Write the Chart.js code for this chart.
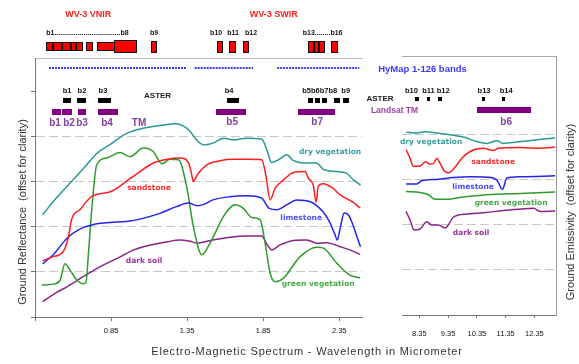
<!DOCTYPE html>
<html>
<head>
<meta charset="utf-8">
<script src="https://cdn.jsdelivr.net/npm/chart.js@4.4.1/dist/chart.umd.min.js"></script>
<style>
  html, body { margin: 0; padding: 0; background: #fff; }
  #wrap { position: relative; width: 579px; height: 364px; overflow: hidden; background: #fff; }
  canvas { position: absolute; top: 0; }
  #refl { left: 0; }
  #emis { left: 380px; }
</style>
</head>
<body>
<div id="wrap">
  <canvas id="refl" width="579" height="364"></canvas>
  <canvas id="emis" width="199" height="364"></canvas>
</div>
<script>
// ---------- Reflective region (µm) : reflectance, curves offset for clarity ----------
const reflTicks = [0.35, 0.85, 1.35, 1.85, 2.35];
const offsetLevels = [0, 1, 2, 3, 4, 5];

const dryVegWl   = [0.40,0.49,0.59,0.67,0.76,0.84,0.95,1.06,1.17,1.28,1.33,1.37,1.42,1.46,1.52,1.59,1.655,1.74,1.84,1.875,1.905,1.95,2.005,2.05,2.115,2.20,2.25,2.335,2.40,2.445,2.49];
const dryVegRefl = [2.27,2.64,3.01,3.30,3.64,3.82,4.07,4.19,4.25,4.29,4.23,4.12,3.90,3.82,3.86,3.97,3.93,3.97,3.95,3.71,3.43,3.49,3.60,3.47,3.42,3.42,3.27,3.23,3.19,3.04,2.93];

const sandWl   = [0.40,0.47,0.535,0.57,0.59,0.645,0.72,0.80,0.845,0.89,0.95,1.04,1.13,1.22,1.30,1.33,1.36,1.378,1.391,1.405,1.424,1.48,1.567,1.655,1.743,1.841,1.869,1.896,1.929,1.983,2.049,2.126,2.146,2.179,2.199,2.212,2.245,2.304,2.357,2.436,2.488];
const sandRefl = [1.25,1.34,1.45,1.78,2.16,2.38,2.67,2.75,2.78,2.86,3.01,3.23,3.42,3.50,3.53,3.52,3.42,3.20,3.01,3.08,3.19,3.38,3.47,3.50,3.50,3.49,3.12,2.60,2.86,3.04,3.21,3.23,3.09,2.93,2.55,2.90,2.96,2.87,2.71,2.56,2.42];

const limeWl   = [0.40,0.47,0.56,0.645,0.755,0.845,0.95,1.06,1.17,1.28,1.36,1.415,1.46,1.52,1.63,1.74,1.84,1.89,1.94,2.005,2.07,2.16,2.245,2.29,2.32,2.338,2.357,2.383,2.41,2.44,2.455,2.49];
const limeRefl = [1.18,1.38,1.75,1.95,2.07,2.10,2.12,2.19,2.30,2.45,2.53,2.47,2.50,2.60,2.67,2.69,2.64,2.41,2.38,2.49,2.60,2.56,2.33,2.09,1.85,1.71,1.98,2.31,2.27,2.05,1.90,1.56];

const greenVegWl   = [0.395,0.47,0.515,0.547,0.58,0.625,0.665,0.685,0.70,0.723,0.756,0.822,0.909,0.975,1.063,1.128,1.184,1.238,1.293,1.348,1.391,1.447,1.501,1.589,1.666,1.72,1.776,1.83,1.863,1.896,1.929,1.983,2.093,2.203,2.247,2.335,2.42,2.488];
const greenVegRefl = [0.71,0.73,0.82,1.18,1.04,0.82,0.74,0.76,1.34,2.38,3.38,3.53,3.65,3.56,3.75,3.67,3.40,3.50,3.49,2.88,2.01,1.38,1.64,2.23,2.49,2.41,2.21,2.16,1.64,0.97,0.78,0.86,1.34,1.55,1.53,1.19,0.93,0.87];

const soilWl   = [0.40,0.49,0.56,0.67,0.78,0.89,1.00,1.11,1.22,1.30,1.37,1.415,1.52,1.63,1.74,1.84,1.878,1.907,1.962,2.049,2.137,2.203,2.269,2.357,2.42,2.488];
const soilRefl = [0.34,0.54,0.67,0.90,1.12,1.30,1.49,1.60,1.67,1.71,1.68,1.64,1.71,1.77,1.80,1.80,1.60,1.49,1.60,1.70,1.71,1.64,1.65,1.56,1.49,1.39];

// ---------- Thermal region (µm) : emissivity, curves offset for clarity ----------
const emisTicks = [8.35, 9.35, 10.35, 11.35, 12.35];

const dryVegTirWl = [7.89,8.26,8.55,8.96,9.42,9.88,10.35,10.70,11.04,11.27,11.74,12.44,13.07];
const dryVegEmis  = [4.06,4.04,4.07,4.04,4.00,3.95,3.85,3.81,3.87,3.81,3.84,3.89,3.93];
const sandTirWl = [7.89,8.03,8.14,8.38,8.58,8.70,8.84,8.96,9.07,9.21,9.36,9.59,9.83,10.12,10.58,10.93,11.10,11.85,12.55,13.07];
const sandEmis  = [3.67,3.48,3.30,3.31,3.41,3.35,3.36,3.48,3.37,3.21,3.16,3.28,3.48,3.63,3.70,3.65,3.70,3.72,3.70,3.73];
const limeTirWl = [7.89,8.26,8.43,8.96,9.53,10.12,10.70,11.04,11.24,11.39,11.85,13.07];
const limeEmis  = [2.91,2.91,2.98,3.01,3.05,3.07,3.06,3.00,2.79,3.04,3.07,3.09];
const greenVegTirWl = [7.89,8.38,8.67,8.90,9.30,9.88,10.70,11.85,13.07];
const greenVegEmis  = [2.74,2.72,2.67,2.57,2.57,2.62,2.67,2.70,2.73];
const soilTirWl = [7.89,8.03,8.17,8.38,8.61,8.78,9.01,9.25,9.36,9.53,10.0,10.58,11.27,11.85,12.32,12.55,13.07];
const soilEmis  = [2.30,2.11,1.89,1.91,2.07,2.00,2.00,1.93,2.00,2.17,2.24,2.27,2.32,2.35,2.37,2.30,2.31];

// ---------- Sensor band coverage [start, end] in µm ----------
const wv3VnirBands = [[0.422,0.468],[0.468,0.528],[0.528,0.587],[0.587,0.62],[0.62,0.666],[0.686,0.732],[0.758,0.876],[0.87,1.021]];
const wv3SwirBands = [[1.113,1.153],[1.547,1.587],[1.626,1.672],[1.718,1.758],[2.146,2.186],[2.186,2.218],[2.218,2.258],[2.297,2.343]];
const hymapRanges  = [[0.442,1.35],[1.40,1.784],[1.942,2.482]];
const asterVswirBands = [[0.528,0.593],[0.626,0.686],[0.764,0.85],[1.607,1.692],[2.139,2.179],[2.186,2.225],[2.232,2.271],[2.31,2.357],[2.37,2.416]];
const tmReflBands  = [[0.462,0.52],[0.528,0.593],[0.632,0.686],[0.764,0.896],[1.54,1.74],[2.08,2.32]];
const asterTirBands = [[8.20,8.33],[8.61,8.73],[9.01,9.13],[10.52,10.64],[11.22,11.33]];
const tmThermalBand = [10.35, 12.23];

// ---------- Styling ----------
const SANS = '"Liberation Sans", Arial, sans-serif';
const VERD = '"DejaVu Sans", Verdana, sans-serif';
const LINE = { dry: '#2a9898', sand: '#ff1c1c', lime: '#2424ee', green: '#2c9c2c', soil: '#8a228a' };
const TAG  = { dry: '#3a9e9e', sand: '#ff2a2a', lime: '#4c4cff', green: '#46a846', soil: '#993399' };
const TM_PURPLE = '#800080';
const TM_TEXT = '#8442a4';

function txt(ctx, s, x, y, font, color, align) {
  ctx.font = font;
  ctx.fillStyle = color;
  ctx.textAlign = align || 'center';
  ctx.textBaseline = 'middle';
  ctx.fillText(s, x, y);
}
function bar(ctx, x0, x1, y0, y1, fill, stroke) {
  const l = Math.round(x0), r = Math.round(x1), t = Math.round(y0), b = Math.round(y1);
  ctx.fillStyle = fill;
  ctx.fillRect(l, t, Math.max(1, r - l), b - t);
  if (stroke) {
    ctx.strokeStyle = stroke;
    ctx.lineWidth = 1;
    ctx.strokeRect(l + 0.5, t + 0.5, Math.max(1, r - l - 1), b - t - 1);
  }
}
function mkSet(wl, val, color) {
  return {
    data: wl.map((w, i) => ({ x: w, y: val[i] })),
    borderColor: color, borderWidth: 1.5, pointRadius: 0, fill: false,
    cubicInterpolationMode: 'monotone'
  };
}
const gridColor = c => (c.tick && c.tick.value >= 1 && c.tick.value <= 4) ? '#c8c8c8' : 'rgba(0,0,0,0)';

// ---------- Decorations for the reflective panel ----------
const reflDecor = {
  id: 'reflDecor',
  afterDraw(chart) {
    const { ctx, chartArea: a, scales: { x, y } } = chart;
    const X = v => x.getPixelForValue(v);
    const Y = v => y.getPixelForValue(v);
    const t = a.top;
    ctx.save();

    // WorldView-3
    txt(ctx, 'WV-3 VNIR', X(0.70), t - 43, 'bold 9px ' + SANS, '#ff2020');
    txt(ctx, 'WV-3 SWIR', X(1.919), t - 43, 'bold 9px ' + SANS, '#ff2020');
    const smallB = 'bold 7px ' + SANS;
    txt(ctx, 'b1..................................b8', X(0.695), t - 25, smallB, '#111');
    txt(ctx, 'b9', X(1.133), t - 25, smallB, '#111');
    txt(ctx, 'b10', X(1.541), t - 25, smallB, '#111');
    txt(ctx, 'b11', X(1.653), t - 25, smallB, '#111');
    txt(ctx, 'b12', X(1.771), t - 25, smallB, '#111');
    txt(ctx, 'b13........b16', X(2.241), t - 25, smallB, '#111');
    wv3VnirBands.forEach((b, i) => {
      const tall = i === wv3VnirBands.length - 1;
      bar(ctx, X(b[0]), X(b[1]), tall ? t - 18 : t - 16, tall ? t - 5 : t - 7, '#ff0000', '#111');
    });
    wv3SwirBands.forEach(b => bar(ctx, X(b[0]), X(b[1]), t - 17.5, t - 5.5, '#ff0000', '#111'));

    // HyMap
    ctx.strokeStyle = '#3c3cff';
    ctx.lineWidth = 2.2;
    ctx.setLineDash([2, 1]);
    hymapRanges.forEach(r => {
      ctx.beginPath();
      ctx.moveTo(X(r[0]), t + 10);
      ctx.lineTo(X(r[1]), t + 10);
      ctx.stroke();
    });
    ctx.setLineDash([]);
    txt(ctx, 'HyMap 1-126 bands', 422.5, t + 11, 'bold 9.5px ' + SANS, '#3b3bff');

    // ASTER (VNIR / SWIR)
    const aLab = 'bold 7.5px ' + SANS;
    txt(ctx, 'b1', X(0.561), t + 33, aLab, '#111');
    txt(ctx, 'b2', X(0.659), t + 33, aLab, '#111');
    txt(ctx, 'b3', X(0.797), t + 33, aLab, '#111');
    txt(ctx, 'b4', X(1.626), t + 33, aLab, '#111');
    txt(ctx, 'b5b6b7b8', X(2.222), t + 33, aLab, '#111');
    txt(ctx, 'b9', X(2.393), t + 33, aLab, '#111');
    txt(ctx, 'ASTER', X(1.156), t + 38, 'bold 8px ' + SANS, '#222');
    txt(ctx, 'ASTER', 380, t + 41, 'bold 8px ' + SANS, '#222');
    asterVswirBands.forEach(b => bar(ctx, X(b[0]) + 0.5, X(b[1]) - 0.5, t + 40, t + 45, '#000'));

    // Landsat TM
    tmReflBands.forEach(b => bar(ctx, X(b[0]), X(b[1]), t + 51, t + 57, TM_PURPLE));
    const tmLab = 'bold 10px ' + SANS;
    txt(ctx, 'b1', X(0.482), t + 65, tmLab, TM_TEXT);
    txt(ctx, 'b2', X(0.574), t + 65, tmLab, TM_TEXT);
    txt(ctx, 'b3', X(0.659), t + 65, tmLab, TM_TEXT);
    txt(ctx, 'b4', X(0.824), t + 65, tmLab, TM_TEXT);
    txt(ctx, 'TM', X(1.034), t + 65, tmLab, TM_TEXT);
    txt(ctx, 'b5', X(1.646), t + 64, tmLab, TM_TEXT);
    txt(ctx, 'b7', X(2.205), t + 64, tmLab, TM_TEXT);
    txt(ctx, 'Landsat TM', 394.5, t + 53, 'bold 8.5px ' + SANS, '#a040a8');

    // spectrum names
    const cl = 'bold 7.5px ' + VERD;
    txt(ctx, 'dry vegetation', X(2.29), Y(3.67), cl, TAG.dry);
    txt(ctx, 'sandstone', X(1.10), Y(2.87), cl, TAG.sand);
    txt(ctx, 'limestone', X(2.10), Y(2.20), cl, TAG.lime);
    txt(ctx, 'dark soil', X(1.067), Y(1.24), cl, TAG.soil);
    txt(ctx, 'green vegetation', X(2.212), Y(0.73), cl, TAG.green);

    // axis captions
    ctx.save();
    ctx.translate(22.5, 212);
    ctx.rotate(-Math.PI / 2);
    txt(ctx, 'Ground Reflectance  (offset for clarity)', 0, 0, '11px ' + SANS, '#333');
    ctx.restore();

    ctx.letterSpacing = '0.8px';
    txt(ctx, 'Electro-Magnetic Spectrum - Wavelength in Micrometer', 307, 352, '11px ' + SANS, '#333');
    ctx.letterSpacing = '0px';
    ctx.restore();
  }
};

// ---------- Decorations for the thermal panel ----------
const emisDecor = {
  id: 'emisDecor',
  afterDraw(chart) {
    const { ctx, chartArea: a, scales: { x, y } } = chart;
    const X = v => x.getPixelForValue(v);
    const Y = v => y.getPixelForValue(v);
    const t = a.top;
    ctx.save();
    const aLab = 'bold 7.5px ' + SANS;
    txt(ctx, 'b10', X(8.08), t + 35, aLab, '#111');
    txt(ctx, 'b11', X(8.67), t + 35, aLab, '#111');
    txt(ctx, 'b12', X(9.18), t + 35, aLab, '#111');
    txt(ctx, 'b13', X(10.60), t + 35, aLab, '#111');
    txt(ctx, 'b14', X(11.37), t + 35, aLab, '#111');
    asterTirBands.forEach(b => bar(ctx, X(b[0]), X(b[1]), t + 41, t + 45, '#000'));
    bar(ctx, X(tmThermalBand[0]), X(tmThermalBand[1]), t + 51, t + 56.5, TM_PURPLE);
    txt(ctx, 'b6', X(11.37), t + 66, 'bold 10px ' + SANS, TM_TEXT);

    const cl = 'bold 7.5px ' + VERD;
    txt(ctx, 'dry vegetation', X(8.76), Y(3.84), cl, TAG.dry);
    txt(ctx, 'sandstone', X(10.915), Y(3.40), cl, TAG.sand);
    txt(ctx, 'limestone', X(10.22), Y(2.84), cl, TAG.lime);
    txt(ctx, 'green vegetation', X(11.54), Y(2.49), cl, TAG.green);
    txt(ctx, 'dark soil', X(10.15), Y(1.82), cl, TAG.soil);

    ctx.translate(191, 212);
    ctx.rotate(-Math.PI / 2);
    txt(ctx, 'Ground Emissivity  (offset for clarity)', 0, 0, '11px ' + SANS, '#333');
    ctx.restore();
  }
};

const tickFont = { family: SANS, size: 7.5 };

new Chart(document.getElementById('refl'), {
  type: 'line',
  data: {
    datasets: [
      mkSet(dryVegWl, dryVegRefl, LINE.dry),
      mkSet(sandWl, sandRefl, LINE.sand),
      mkSet(limeWl, limeRefl, LINE.lime),
      mkSet(greenVegWl, greenVegRefl, LINE.green),
      mkSet(soilWl, soilRefl, LINE.soil)
    ]
  },
  options: {
    responsive: false, animation: false, events: [],
    layout: { padding: { left: 31, right: 217, top: 58, bottom: 24 } },
    plugins: { legend: { display: false }, tooltip: { enabled: false } },
    scales: {
      x: {
        type: 'linear', min: 0.35, max: 2.5,
        afterBuildTicks: s => { s.ticks = reflTicks.map(v => ({ value: v })); },
        grid: { drawOnChartArea: false, drawTicks: true, tickLength: 4, tickColor: '#777' },
        border: { display: true, color: '#777' },
        ticks: { autoSkip: false, maxRotation: 0, padding: 5, font: tickFont, color: '#111',
                 callback: v => (v === reflTicks[0] ? '' : Number(v).toFixed(2)) }
      },
      xTop: {
        type: 'linear', position: 'top', min: 0.35, max: 2.5, display: true,
        grid: { display: false, drawTicks: false }, ticks: { display: false },
        border: { display: true, color: '#bbb' }
      },
      y: {
        min: 0, max: 5.75,
        afterBuildTicks: s => { s.ticks = offsetLevels.map(v => ({ value: v })); },
        grid: { color: gridColor, tickColor: '#777', tickLength: 4, lineWidth: 1 },
        border: { display: true, color: '#777', dash: [9, 4] },
        ticks: { display: false }
      }
    }
  },
  plugins: [reflDecor]
});

new Chart(document.getElementById('emis'), {
  type: 'line',
  data: {
    datasets: [
      mkSet(dryVegTirWl, dryVegEmis, LINE.dry),
      mkSet(sandTirWl, sandEmis, LINE.sand),
      mkSet(limeTirWl, limeEmis, LINE.lime),
      mkSet(greenVegTirWl, greenVegEmis, LINE.green),
      mkSet(soilTirWl, soilEmis, LINE.soil)
    ]
  },
  options: {
    responsive: false, animation: false, events: [],
    layout: { padding: { left: 22, right: 23, top: 56, bottom: 15 } },
    plugins: { legend: { display: false }, tooltip: { enabled: false } },
    scales: {
      x: {
        type: 'linear', min: 7.75, max: 13.1,
        afterBuildTicks: s => { s.ticks = emisTicks.map(v => ({ value: v })); },
        grid: { drawOnChartArea: false, drawTicks: true, tickLength: 3, tickColor: '#777' },
        border: { display: true, color: '#777' },
        ticks: { autoSkip: false, maxRotation: 0, padding: 11, font: tickFont, color: '#111',
                 callback: v => Number(v).toFixed(2) }
      },
      xTop: {
        type: 'linear', position: 'top', min: 7.75, max: 13.1, display: true,
        grid: { display: false, drawTicks: false }, ticks: { display: false },
        border: { display: true, color: '#aaa' }
      },
      y: {
        position: 'right', min: 0, max: 5.75,
        afterBuildTicks: s => { s.ticks = offsetLevels.map(v => ({ value: v })); },
        grid: { color: gridColor, drawTicks: false, lineWidth: 1 },
        border: { display: true, color: '#999', dash: [9, 4] },
        ticks: { display: false }
      }
    }
  },
  plugins: [emisDecor]
});
</script>
</body>
</html>
